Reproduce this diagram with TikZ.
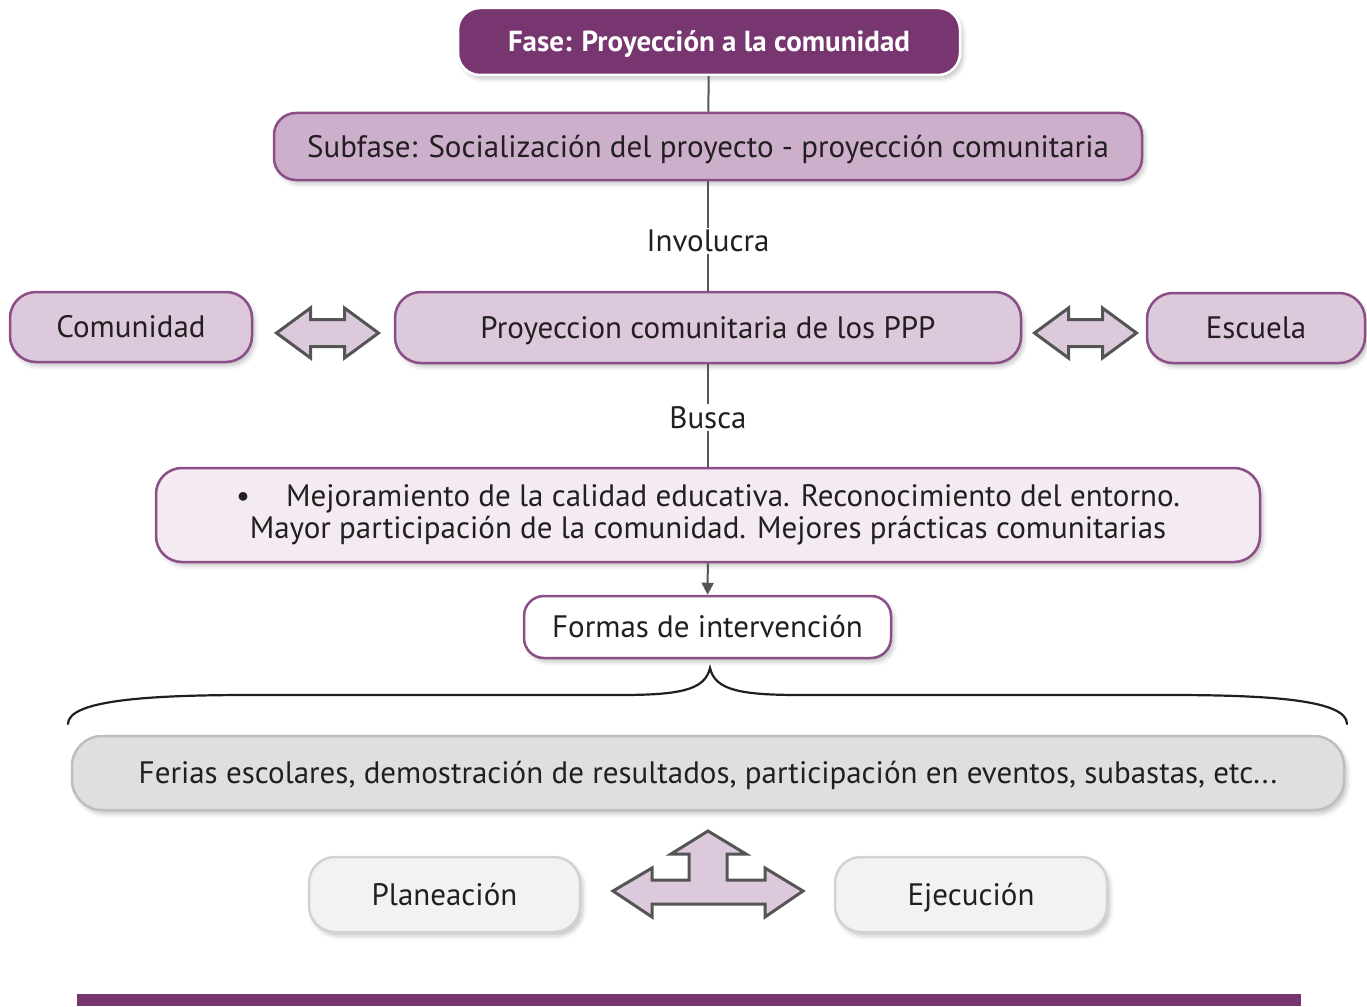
\documentclass[tikz,border=0pt]{standalone}
\usepackage{fontspec}
\setmainfont{PT Sans}
\usepackage{tikz}
\usetikzlibrary{arrows.meta, shadows.blur}

\definecolor{faseviolet}{RGB}{119,54,112}
\definecolor{boxline}{RGB}{139,78,135}
\definecolor{subfill}{RGB}{204,175,202}
\definecolor{midfill}{RGB}{220,201,219}
\definecolor{palefill}{RGB}{243,234,242}
\definecolor{greyfill}{RGB}{223,223,225}
\definecolor{greyline}{RGB}{190,190,193}
\definecolor{lightfill}{RGB}{241,242,244}
\definecolor{lightline}{RGB}{210,210,213}
\definecolor{linkgray}{RGB}{85,85,85}
\definecolor{inktext}{RGB}{35,31,32}

\begin{document}
\begin{tikzpicture}[x=1pt, y=-1pt,
  box/.style={rounded corners=22pt, inner sep=0pt, line width=2.5pt,
    text=inktext, font=\fontsize{31}{32}\selectfont,
    text height=21.7pt, text depth=0pt,
    blur shadow={shadow xshift=3pt, shadow yshift=-4pt,
      shadow blur radius=4pt, shadow opacity=22}},
  purplebox/.style={box, draw=boxline},
  greybox/.style={box, rounded corners=30pt},
  link/.style={line width=2pt, linkgray},
  linklabel/.style={fill=white, inner sep=2pt, text=inktext,
    font=\fontsize{31}{32}\selectfont},
  bigarrow/.style={fill=midfill, draw=linkgray, line width=3pt,
    line join=miter}
]
\useasboundingbox (0,0) rectangle (1367,1006);

% --- Phase and subphase ---
\node[box, fill=faseviolet, draw=white, text=white,
  font=\fontsize{29}{30}\selectfont\bfseries, text height=20.5pt,
  minimum width=502, minimum height=67] (fase) at (709,41.5)
  {Fase: Proyección a la comunidad};
\node[purplebox, fill=subfill, minimum width=868, minimum height=67]
  (subfase) at (708,146.5)
  {Subfase: Socialización del proyecto - proyección comunitaria};

% --- Middle row ---
\node[purplebox, fill=midfill, rounded corners=26pt,
  minimum width=242, minimum height=70] (comunidad) at (131,327) {Comunidad};
\node[purplebox, fill=midfill, rounded corners=26pt,
  minimum width=626, minimum height=71] (proy) at (708,327.5)
  {Proyeccion comunitaria de los PPP};
\node[purplebox, fill=midfill, rounded corners=26pt,
  minimum width=218, minimum height=70] (escuela) at (1256,328) {Escuela};

% --- Aims ---
\node[purplebox, fill=palefill, rounded corners=26pt, align=center,
  text height=, text depth=,
  minimum width=1104, minimum height=94] (mejora) at (708,515)
  {•\hspace{36pt}Mejoramiento de la calidad educativa. Reconocimiento del entorno.\\
   Mayor participación de la comunidad. Mejores prácticas comunitarias};

\node[purplebox, fill=white, rounded corners=20pt,
  minimum width=367, minimum height=62] (formas) at (707.5,627)
  {Formas de intervención};

% --- Forms ---
\node[greybox, fill=greyfill, draw=greyline,
  minimum width=1272, minimum height=74] (ferias) at (708,773)
  {Ferias escolares, demostración de resultados, participación en eventos, subastas, etc...};
\node[greybox, fill=lightfill, draw=lightline, rounded corners=26pt,
  minimum width=271, minimum height=75] (planea) at (444.5,894.5) {Planeación};
\node[greybox, fill=lightfill, draw=lightline, rounded corners=26pt,
  minimum width=272, minimum height=75] (ejec) at (971,894.5) {Ejecución};

% --- Connectors ---
\draw[link] (fase) -- (subfase);
\draw[link] (subfase) -- (proy) node[linklabel, midway, yshift=-5pt] {Involucra};
\draw[link] (proy) -- (mejora) node[linklabel, midway, yshift=-2pt] {Busca};
\draw[link, -{Triangle[length=12pt, width=12pt]}] (mejora) -- (formas);

% --- Double arrows ---
\foreach \cx in {327.5, 1085.5} {
  \draw[bigarrow, shift={(\cx,333)}]
    (-51,0) -- (-17,-25) -- (-17,-13.5) -- (17,-13.5) -- (17,-25) -- (51,0)
    -- (17,25) -- (17,13.5) -- (-17,13.5) -- (-17,25) -- cycle;
}

% --- Brace ---
\draw[line width=2.2pt, inktext, line cap=round]
  (68,724) .. controls (68,700) and (150,695) .. (250,695) -- (620,695)
  .. controls (680,695) and (705,690) .. (710,668)
  .. controls (715,690) and (740,695) .. (800,695) -- (1170,695)
  .. controls (1270,695) and (1347,700) .. (1347,724);

% --- Three-way arrow ---
\draw[bigarrow]
  (708,831) -- (746,854) -- (727,854) -- (727,880) -- (765,880) -- (765,868)
  -- (803,891) -- (765,917) -- (765,904) -- (652,904) -- (652,917)
  -- (613,891) -- (652,868) -- (652,880) -- (689,880) -- (689,854)
  -- (671,854) -- cycle;

% --- Bottom bar ---
\fill[faseviolet] (77,994) rectangle (1301,1006);

\end{tikzpicture}
\end{document}
